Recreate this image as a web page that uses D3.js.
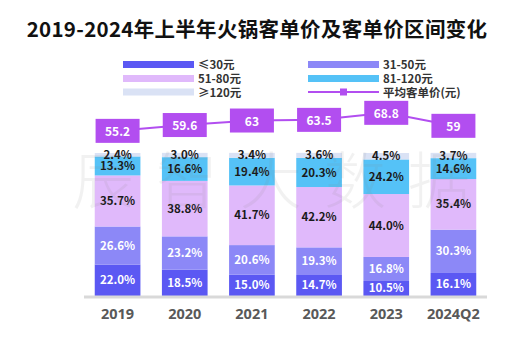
<!DOCTYPE html>
<html><head><meta charset="utf-8">
<script src="https://cdn.jsdelivr.net/npm/d3@7"></script>
<style>body{margin:0;background:#fff}svg{display:block;font-family:"Noto Sans CJK SC","Noto Sans",sans-serif}</style>
</head><body><svg id="c" width="530" height="339"></svg>
<script>
const categories = ["2019","2020","2021","2022","2023","2024Q2"];
const seriesNames = ["≤30元","31-50元","51-80元","81-120元","≥120元"];
const s30 = [22.0,18.5,15.0,14.7,10.5,16.1];
const s50 = [26.6,23.2,20.6,19.3,16.8,30.3];
const s80 = [35.7,38.8,41.7,42.2,44.0,35.4];
const s120 = [13.3,16.6,19.4,20.3,24.2,14.6];
const sOver = [2.4,3.0,3.4,3.6,4.5,3.7];
const avgPrice = [55.2,59.6,63,63.5,68.8,59];
const lineName = "平均客单价(元)";
const colors = ["#5b58f3","#8c88f7","#e0b9fb","#55c2f7","#dae2f5"];
const labelColors = ["#fff","#fff","#1a1a1a","#1a1a1a","#1a1a1a"];
const purple = "#b24ef0";

const svg = d3.select("#c");
const seriesVals = [s30,s50,s80,s120,sOver];
const rows = categories.map((c,i)=>{const o={cat:c};seriesNames.forEach((n,k)=>o[n]=seriesVals[k][i]);return o;});
const stacked = d3.stack().keys(seriesNames)(rows);

const x = d3.scaleBand().domain(categories).range([84,487]).paddingInner(0.32).paddingOuter(0.16);
const y = d3.scaleLinear().domain([0,100]).range([296,153]);
const yl = d3.scaleLinear().domain([40,80]).range([151,98]);

// title
svg.append("text").attr("x",257).attr("y",37).attr("text-anchor","middle")
  .attr("font-size",20.5).attr("font-weight","bold").attr("fill","#111").attr("letter-spacing",0.3)
  .text("2019-2024年上半年火锅客单价及客单价区间变化");

// bars
const g = svg.append("g");
stacked.forEach((s,k)=>{
  g.selectAll(null).data(s).enter().append("rect")
    .attr("x",d=>x(d.data.cat)).attr("width",x.bandwidth())
    .attr("y",d=>y(d[1])).attr("height",d=>y(d[0])-y(d[1]))
    .attr("fill",colors[k]);
});
stacked.forEach((s,k)=>{
  g.selectAll(null).data(s).enter().append("text")
    .attr("x",d=>x(d.data.cat)+x.bandwidth()/2)
    .attr("y",d=>(y(d[0])+y(d[1]))/2+4)
    .attr("text-anchor","middle").attr("font-size",11.5).attr("font-weight","bold")
    .attr("fill",labelColors[k]).text(d=>(d[1]-d[0]).toFixed(1)+"%");
});

// axis
const ax = svg.append("g").attr("transform","translate(0,297)").call(d3.axisBottom(x).tickSize(0).tickPadding(12));
ax.select(".domain").attr("stroke","#d9d9d9").attr("stroke-width",3).attr("d","M84,0H487");
ax.selectAll("text").attr("font-size",14.5).attr("font-weight","bold").attr("fill","#595959")
  .attr("font-family","'Noto Sans',sans-serif");

// line
const cx = c=>x(c)+x.bandwidth()/2;
svg.append("path").datum(avgPrice).attr("fill","none").attr("stroke",purple).attr("stroke-width",2)
  .attr("d",d3.line().x((d,i)=>cx(categories[i])).y(d=>yl(d)));
const lg = svg.append("g").selectAll("g").data(avgPrice).enter().append("g")
  .attr("transform",(d,i)=>`translate(${cx(categories[i])},${yl(d)})`);
lg.append("rect").attr("x",-22).attr("y",-12).attr("width",44).attr("height",24).attr("fill",purple);
lg.append("text").attr("y",5).attr("text-anchor","middle").attr("font-size",12).attr("font-weight","bold")
  .attr("fill","#fff").text(d=>d);

// watermark
svg.append("text").attr("x",72).attr("y",204).attr("font-size",62).attr("font-weight",300)
  .attr("fill","#888").attr("opacity",0.11).attr("letter-spacing",22).text("辰智大数据");

// legend
const leg = [
  {name:seriesNames[0],c:colors[0],x:123,y:64.5},
  {name:seriesNames[1],c:colors[1],x:308,y:64.5},
  {name:seriesNames[2],c:colors[2],x:123,y:78.5},
  {name:seriesNames[3],c:colors[3],x:308,y:78.5},
  {name:seriesNames[4],c:colors[4],x:123,y:92},
];
const L = svg.append("g");
leg.forEach(d=>{
  L.append("rect").attr("x",d.x).attr("y",d.y-3.5).attr("width",71).attr("height",7).attr("fill",d.c);
  L.append("text").attr("x",d.x+75).attr("y",d.y+4.5).attr("font-size",11.5).attr("font-weight","bold").attr("fill","#333").text(d.name);
});
L.append("line").attr("x1",308).attr("x2",379).attr("y1",92).attr("y2",92).attr("stroke",purple).attr("stroke-width",2);
L.append("rect").attr("x",340).attr("y",88.5).attr("width",7).attr("height",7).attr("fill",purple);
L.append("text").attr("x",383).attr("y",96.5).attr("font-size",11.5).attr("font-weight","bold").attr("fill","#333").text(lineName);
</script></body></html>
